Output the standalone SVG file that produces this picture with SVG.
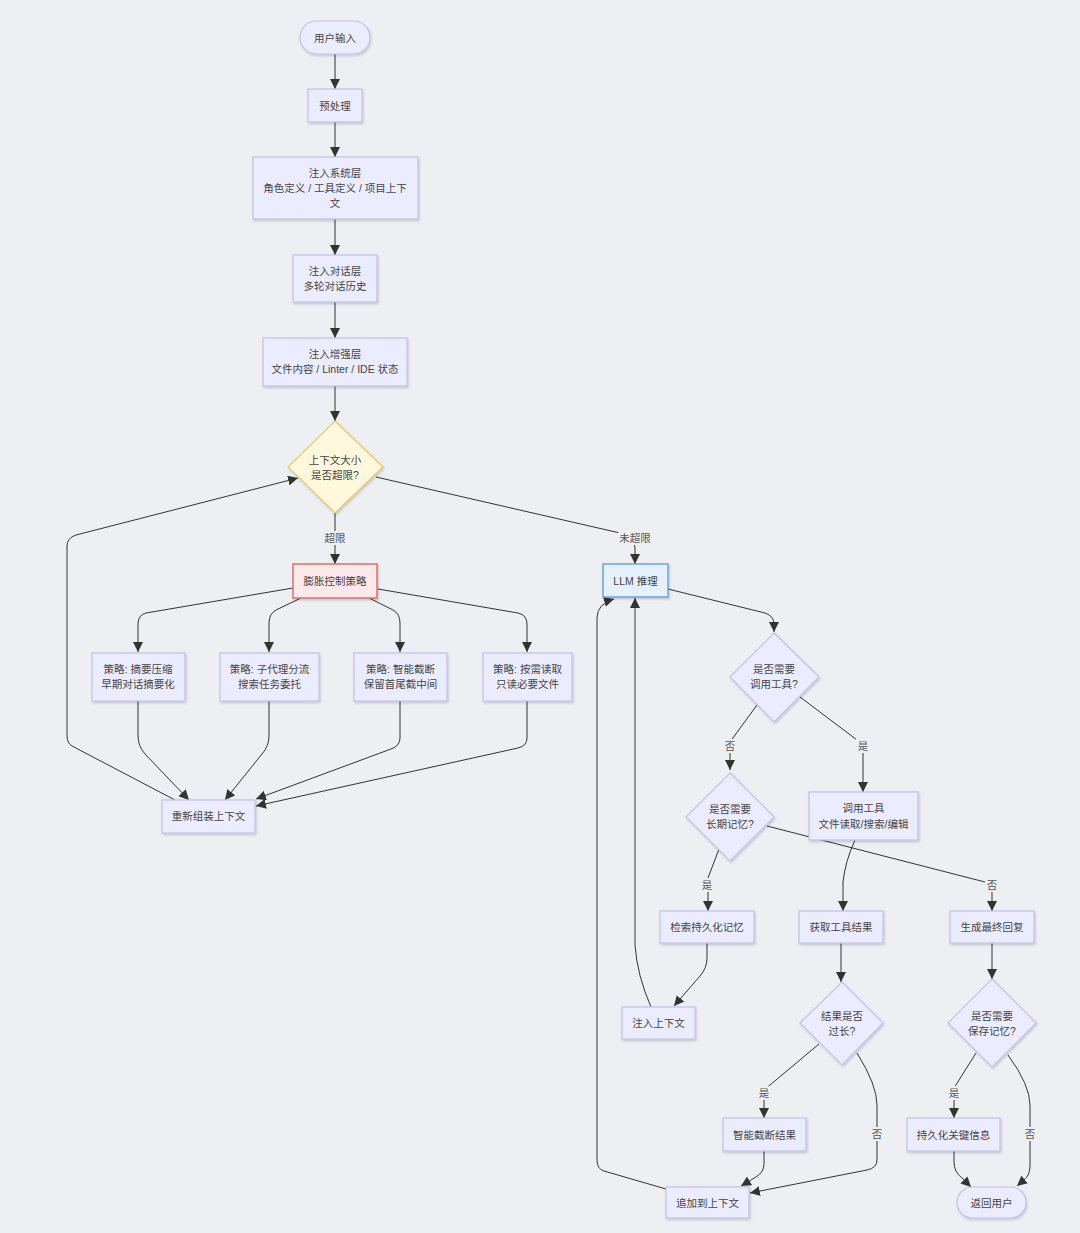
<svg xmlns="http://www.w3.org/2000/svg" width="1080" height="1233" viewBox="0 0 1080 1233">
<defs>
<filter id="sh" x="-20%" y="-20%" width="140%" height="140%"><feDropShadow dx="1" dy="1.5" stdDeviation="1" flood-color="#000" flood-opacity="0.18"/></filter>
<marker id="ar" markerUnits="userSpaceOnUse" markerWidth="10" markerHeight="10" viewBox="0 0 10 10" refX="10" refY="5" orient="auto"><path d="M0,0 L10,5 L0,10 z" fill="#333"/></marker>
</defs>
<style>
.n{fill:#ECECFF;stroke:#c3c0ec;stroke-width:1.2;filter:url(#sh)}
.y{fill:#fff8dc;stroke:#e6c96a;stroke-width:1.2;filter:url(#sh)}
.r{fill:#fde8ea;stroke:#d8736c;stroke-width:1.5;filter:url(#sh)}
.b{fill:#e4f1fc;stroke:#6ea4dc;stroke-width:1.5;filter:url(#sh)}
text{font-family:"Liberation Sans","Noto Sans CJK SC",sans-serif;font-size:10.5px;fill:#444;text-anchor:middle;dominant-baseline:central}
.e path{fill:none;stroke:#333;stroke-width:1;marker-end:url(#ar)}
.lb{fill:#eeeff3}
.lt{fill:#555}
</style>
<rect width="1080" height="1233" fill="#eeeff3"/>
<g class="e" id="connectors">
<path d="M335,54 V89"/>
<path d="M335,122 V157"/>
<path d="M335,219 V255"/>
<path d="M335,302 V338"/>
<path d="M335,386 V421"/>
<path d="M335,513 V564"/>
<path d="M376,477 L620,533 Q635,537 635,548 V564"/>
<path d="M293,588 L146,613 Q138,615 138,624 V652"/>
<path d="M301,598 L276,610 Q269,614 269,623 V652"/>
<path d="M369,598 L393,610 Q400,614 400,623 V652"/>
<path d="M378,589 L518,613 Q527,615 527,624 V652"/>
<path d="M138,701 V736 Q138,746 145,754 L189,800"/>
<path d="M269,701 V736 Q269,746 262,754 L225,800"/>
<path d="M400,701 V738 Q400,746 391,749 L256,799"/>
<path d="M527,701 V738 Q527,746 518,748 L256,806"/>
<path d="M175,800 L72,746 Q67,743 67,736 V546 Q67,538 76,535 L298,478"/>
<path d="M668,589 L765,613 Q774,616 774,624 V632"/>
<path d="M757,705 L730,742 V770"/>
<path d="M800,697 L857,740 Q863,745 863,752 V792"/>
<path d="M719,849 L708,878 V911"/>
<path d="M767,826 L985,882 Q992,884 992,892 V911"/>
<path d="M855,840 Q845,862 843,882 V911"/>
<path d="M841,943 V982"/>
<path d="M992,943 V979"/>
<path d="M707,943 V958 Q707,968 700,976 L674,1006"/>
<path d="M651,1007 Q637,975 635,945 V598"/>
<path d="M819,1044 L764,1090 V1118"/>
<path d="M857,1053 Q877,1085 877,1105 V1160 Q877,1168 867,1170 L750,1193"/>
<path d="M764,1151 V1164 Q764,1172 756,1177 L741,1186"/>
<path d="M666,1189 L604,1171 Q597,1169 597,1160 V618 Q597,604 614,599"/>
<path d="M976,1053 L954,1088 V1118"/>
<path d="M1008,1055 Q1030,1085 1030,1105 V1166 Q1030,1175 1024,1180 L1017,1186"/>
<path d="M954,1151 V1162 Q954,1172 962,1178 L971,1187"/>
</g>
<g id="edge-labels">
<rect class="lb" x="323" y="531" width="24" height="14"/><text class="lt" x="335" y="538">超限</text>
<rect class="lb" x="618" y="531" width="34" height="14"/><text class="lt" x="635" y="538">未超限</text>
<rect class="lb" x="723" y="739" width="14" height="14"/><text class="lt" x="730" y="746">否</text>
<rect class="lb" x="856" y="739" width="14" height="14"/><text class="lt" x="863" y="746">是</text>
<rect class="lb" x="700" y="878" width="14" height="14"/><text class="lt" x="707" y="885">是</text>
<rect class="lb" x="985" y="878" width="14" height="14"/><text class="lt" x="992" y="885">否</text>
<rect class="lb" x="757" y="1086" width="14" height="14"/><text class="lt" x="764" y="1093">是</text>
<rect class="lb" x="870" y="1127" width="14" height="14"/><text class="lt" x="877" y="1134">否</text>
<rect class="lb" x="947" y="1086" width="14" height="14"/><text class="lt" x="954" y="1093">是</text>
<rect class="lb" x="1023" y="1127" width="14" height="14"/><text class="lt" x="1030" y="1134">否</text>
</g>
<g id="n-input"><rect class="n" x="300" y="21" width="70" height="33" rx="16.5"/><text x="335" y="37.5">用户输入</text></g>
<g id="n-pre"><rect class="n" x="308" y="89" width="54" height="33"/><text x="335" y="105.5">预处理</text></g>
<g id="n-sys"><rect class="n" x="253" y="157" width="165" height="62"/><text x="335" y="173">注入系统层</text><text x="335" y="188">角色定义 / 工具定义 / 项目上下</text><text x="335" y="203">文</text></g>
<g id="n-dlg"><rect class="n" x="293" y="255" width="84" height="47"/><text x="335" y="271">注入对话层</text><text x="335" y="286">多轮对话历史</text></g>
<g id="n-enh"><rect class="n" x="263" y="338" width="144" height="48"/><text x="335" y="354">注入增强层</text><text x="335" y="369">文件内容 / Linter / IDE 状态</text></g>
<g id="n-size"><polygon class="y" points="335,421 383,467 335,513 288,467"/><text x="335" y="460">上下文大小</text><text x="335" y="475">是否超限?</text></g>
<g id="n-ctrl"><rect class="r" x="293" y="564" width="84" height="34"/><text x="335" y="581">膨胀控制策略</text></g>
<g id="n-s1"><rect class="n" x="92" y="653" width="93" height="48"/><text x="138" y="669">策略: 摘要压缩</text><text x="138" y="684">早期对话摘要化</text></g>
<g id="n-s2"><rect class="n" x="220" y="653" width="99" height="48"/><text x="269.5" y="669">策略: 子代理分流</text><text x="269.5" y="684">搜索任务委托</text></g>
<g id="n-s3"><rect class="n" x="354" y="653" width="93" height="48"/><text x="400.5" y="669">策略: 智能截断</text><text x="400.5" y="684">保留首尾截中间</text></g>
<g id="n-s4"><rect class="n" x="483" y="653" width="89" height="48"/><text x="527.5" y="669">策略: 按需读取</text><text x="527.5" y="684">只读必要文件</text></g>
<g id="n-reasm"><rect class="n" x="162" y="800" width="93" height="33"/><text x="208.5" y="816">重新组装上下文</text></g>
<g id="n-llm"><rect class="b" x="603" y="564" width="65" height="33"/><text x="635.5" y="581">LLM 推理</text></g>
<g id="n-tool-q"><polygon class="n" points="774,633 819,677 774,722 730,677"/><text x="774" y="669">是否需要</text><text x="774" y="684">调用工具?</text></g>
<g id="n-mem-q"><polygon class="n" points="730,773 774,817 730,861 686,817"/><text x="730" y="809">是否需要</text><text x="730" y="824">长期记忆?</text></g>
<g id="n-tool"><rect class="n" x="809" y="792" width="109" height="48"/><text x="863.5" y="808">调用工具</text><text x="863.5" y="824">文件读取/搜索/编辑</text></g>
<g id="n-retr"><rect class="n" x="660" y="911" width="94" height="32"/><text x="707" y="927">检索持久化记忆</text></g>
<g id="n-res"><rect class="n" x="799" y="911" width="84" height="32"/><text x="841" y="927">获取工具结果</text></g>
<g id="n-gen"><rect class="n" x="950" y="911" width="84" height="32"/><text x="992" y="927">生成最终回复</text></g>
<g id="n-inj"><rect class="n" x="622" y="1007" width="73" height="32"/><text x="658.5" y="1023">注入上下文</text></g>
<g id="n-long-q"><polygon class="n" points="842,982 883,1023 842,1065 800,1023"/><text x="842" y="1016">结果是否</text><text x="842" y="1031">过长?</text></g>
<g id="n-save-q"><polygon class="n" points="992,979 1036,1023 992,1067 948,1023"/><text x="992" y="1016">是否需要</text><text x="992" y="1031">保存记忆?</text></g>
<g id="n-trunc"><rect class="n" x="723" y="1118" width="83" height="33"/><text x="764.5" y="1134.5">智能截断结果</text></g>
<g id="n-persist"><rect class="n" x="907" y="1118" width="93" height="33"/><text x="953.5" y="1134.5">持久化关键信息</text></g>
<g id="n-append"><rect class="n" x="666" y="1187" width="83" height="31"/><text x="707.5" y="1202.5">追加到上下文</text></g>
<g id="n-return"><rect class="n" x="957" y="1187" width="69" height="31" rx="15.5"/><text x="991.5" y="1202.5">返回用户</text></g>
</svg>
